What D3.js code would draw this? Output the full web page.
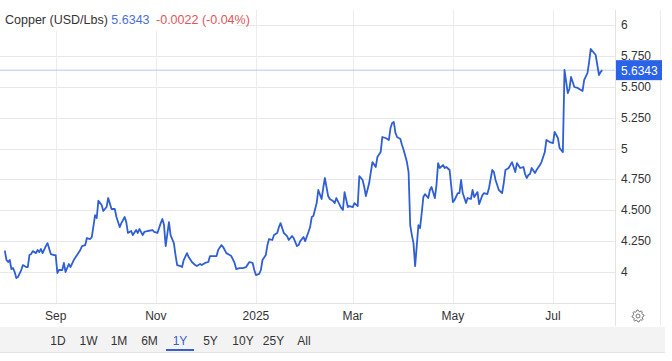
<!DOCTYPE html>
<html>
<head>
<meta charset="utf-8">
<script src="https://cdn.jsdelivr.net/npm/d3@7"></script>
<style>
  body { margin: 0; background: #fff; }
  svg { display: block; font-family: "Liberation Sans", Arial, sans-serif; }
</style>
</head>
<body>
<svg id="chart" width="672" height="361"></svg>
<script>
// copper price, USD/Lbs
const dates = [
  "2024-08-01","2024-08-02","2024-08-03","2024-08-04","2024-08-05","2024-08-06","2024-08-07","2024-08-08","2024-08-09","2024-08-11",
  "2024-08-12","2024-08-14","2024-08-15","2024-08-16","2024-08-17","2024-08-18","2024-08-20","2024-08-21","2024-08-22","2024-08-23",
  "2024-08-24","2024-08-26","2024-08-27","2024-08-29","2024-08-31","2024-09-01","2024-09-02","2024-09-03","2024-09-05","2024-09-06",
  "2024-09-07","2024-09-09","2024-09-10","2024-09-12","2024-09-14","2024-09-16","2024-09-17","2024-09-19","2024-09-20","2024-09-22",
  "2024-09-23","2024-09-25","2024-09-26","2024-09-27","2024-09-29","2024-09-30","2024-10-02","2024-10-03","2024-10-05","2024-10-07",
  "2024-10-08","2024-10-10","2024-10-11","2024-10-13","2024-10-14","2024-10-15","2024-10-17","2024-10-18","2024-10-20","2024-10-21",
  "2024-10-22","2024-10-24","2024-10-25","2024-10-27","2024-10-30","2024-10-31","2024-11-02","2024-11-04","2024-11-05","2024-11-06",
  "2024-11-07","2024-11-09","2024-11-10","2024-11-12","2024-11-13","2024-11-14","2024-11-16","2024-11-17","2024-11-18","2024-11-20",
  "2024-11-21","2024-11-23","2024-11-25","2024-11-26","2024-11-28","2024-11-29","2024-12-01","2024-12-03","2024-12-04","2024-12-06",
  "2024-12-08","2024-12-09","2024-12-11","2024-12-12","2024-12-14","2024-12-16","2024-12-17","2024-12-19","2024-12-20","2024-12-22",
  "2024-12-24","2024-12-26","2024-12-28","2024-12-30","2024-12-31","2025-01-01","2025-01-03","2025-01-04","2025-01-05","2025-01-07",
  "2025-01-08","2025-01-09","2025-01-11","2025-01-12","2025-01-14","2025-01-15","2025-01-16","2025-01-18","2025-01-20","2025-01-21",
  "2025-01-23","2025-01-24","2025-01-26","2025-01-27","2025-01-28","2025-01-30","2025-01-31","2025-02-02","2025-02-03","2025-02-04",
  "2025-02-05","2025-02-07","2025-02-08","2025-02-10","2025-02-11","2025-02-12","2025-02-14","2025-02-15","2025-02-17","2025-02-18",
  "2025-02-19","2025-02-22","2025-02-23","2025-02-24","2025-02-26","2025-02-27","2025-03-01","2025-03-02","2025-03-04","2025-03-05",
  "2025-03-07","2025-03-08","2025-03-09","2025-03-11","2025-03-12","2025-03-13","2025-03-15","2025-03-16","2025-03-18","2025-03-19",
  "2025-03-21","2025-03-23","2025-03-24","2025-03-25","2025-03-26","2025-03-27","2025-03-28","2025-03-30","2025-03-31","2025-04-01",
  "2025-04-03","2025-04-04","2025-04-05","2025-04-06","2025-04-07","2025-04-08","2025-04-10","2025-04-11","2025-04-12","2025-04-13",
  "2025-04-14","2025-04-16","2025-04-17","2025-04-18","2025-04-20","2025-04-21","2025-04-22","2025-04-23","2025-04-25","2025-04-26",
  "2025-04-27","2025-04-29","2025-05-01","2025-05-02","2025-05-04","2025-05-05","2025-05-06","2025-05-07","2025-05-09","2025-05-10",
  "2025-05-12","2025-05-13","2025-05-14","2025-05-16","2025-05-17","2025-05-19","2025-05-20","2025-05-22","2025-05-23","2025-05-25",
  "2025-05-26","2025-05-27","2025-05-29","2025-05-31","2025-06-01","2025-06-02","2025-06-04","2025-06-06","2025-06-08","2025-06-09",
  "2025-06-11","2025-06-13","2025-06-14","2025-06-15","2025-06-16","2025-06-17","2025-06-18","2025-06-20","2025-06-21","2025-06-23",
  "2025-06-24","2025-06-26","2025-06-27","2025-06-29","2025-07-01","2025-07-02","2025-07-04","2025-07-05","2025-07-07","2025-07-08",
  "2025-07-10","2025-07-11","2025-07-12","2025-07-13","2025-07-14","2025-07-16","2025-07-19","2025-07-20","2025-07-22","2025-07-23",
  "2025-07-24","2025-07-26","2025-07-27","2025-07-29","2025-07-30","2025-07-31"
];
const prices = [
  4.173,4.097,4.081,4.097,4.024,4.032,4.000,3.951,3.959,4.016,
  4.056,4.040,4.040,4.137,4.145,4.169,4.153,4.178,4.161,4.186,
  4.153,4.210,4.234,4.145,4.137,4.137,3.992,4.016,4.016,4.073,
  4.000,4.065,4.040,4.097,4.137,4.178,4.210,4.218,4.275,4.267,
  4.283,4.461,4.437,4.577,4.542,4.494,4.526,4.599,4.510,4.510,
  4.445,4.364,4.396,4.445,4.404,4.316,4.332,4.299,4.340,4.316,
  4.348,4.299,4.324,4.332,4.340,4.324,4.316,4.396,4.429,4.380,
  4.210,4.404,4.299,4.234,4.137,4.056,4.048,4.040,4.097,4.153,
  4.121,4.081,4.056,4.048,4.065,4.056,4.073,4.081,4.129,4.129,
  4.129,4.178,4.218,4.202,4.153,4.137,4.129,4.073,4.024,4.032,
  4.032,4.040,4.081,4.073,4.016,3.975,3.984,4.016,4.097,4.137,
  4.218,4.267,4.259,4.299,4.316,4.364,4.396,4.316,4.291,4.259,
  4.291,4.275,4.210,4.218,4.250,4.283,4.250,4.324,4.364,4.445,
  4.453,4.558,4.664,4.591,4.680,4.761,4.615,4.591,4.575,4.558,
  4.599,4.518,4.502,4.647,4.526,4.534,4.526,4.558,4.534,4.777,
  4.745,4.688,4.615,4.720,4.809,4.890,4.850,4.931,4.971,5.093,
  5.085,5.069,5.166,5.206,5.215,5.126,5.093,5.077,5.028,4.988,
  4.890,4.809,4.380,4.299,4.234,4.048,4.380,4.356,4.477,4.607,
  4.631,4.599,4.664,4.688,4.599,4.704,4.882,4.842,4.866,4.842,
  4.850,4.826,4.566,4.583,4.639,4.639,4.745,4.639,4.558,4.599,
  4.591,4.664,4.607,4.647,4.550,4.623,4.639,4.631,4.680,4.826,
  4.809,4.745,4.664,4.639,4.720,4.826,4.842,4.890,4.809,4.882,
  4.842,4.850,4.793,4.761,4.785,4.793,4.842,4.801,4.826,4.866,
  4.890,4.971,5.069,5.052,5.044,5.134,5.085,5.004,4.971,5.636,
  5.449,5.482,5.579,5.538,5.498,5.490,5.465,5.555,5.611,5.700,
  5.806,5.773,5.757,5.595,5.619,5.6343
];
const yTicks = [4, 4.25, 4.5, 4.75, 5, 5.25, 5.5, 5.75, 6];
const ranges = ["1D", "1W", "1M", "6M", "1Y", "5Y", "10Y", "25Y", "All"];
const activeRange = "1Y";
const lastPrice = 5.6343;
const change = "-0.0022 (-0.04%)";

const parse = d3.utcParse("%Y-%m-%d");
const data = dates.map((d, i) => ({ date: parse(d), value: prices[i] }));

const svg = d3.select("#chart");
const plotRight = 615, plotTop = 10, plotBottom = 303;

const x = d3.scaleUtc()
  .domain([parse("2024-09-01"), parse("2025-07-01")])
  .range([55.7, 553]);
const y = d3.scaleLinear()
  .domain([4, 6])
  .range([272, 25]);

// horizontal grid
svg.append("g")
  .selectAll("line")
  .data(yTicks)
  .join("line")
    .attr("x1", 0).attr("x2", plotRight)
    .attr("y1", d => Math.round(y(d)) + 0.5).attr("y2", d => Math.round(y(d)) + 0.5)
    .attr("stroke", "#e8e8e8");

// vertical grid + month labels
const months = d3.utcMonth.every(2).range(parse("2024-08-15"), parse("2025-08-01"));
svg.append("g")
  .selectAll("line")
  .data(months)
  .join("line")
    .attr("x1", d => Math.round(x(d)) + 0.5).attr("x2", d => Math.round(x(d)) + 0.5)
    .attr("y1", plotTop).attr("y2", plotBottom)
    .attr("stroke", "#ececec");

svg.append("line")
  .attr("x1", 0).attr("x2", plotRight)
  .attr("y1", plotBottom + 0.5).attr("y2", plotBottom + 0.5)
  .attr("stroke", "#e3e3e3");
svg.append("line")
  .attr("x1", plotRight + 0.5).attr("x2", plotRight + 0.5)
  .attr("y1", plotTop).attr("y2", 326)
  .attr("stroke", "#e3e3e3");
svg.append("line")
  .attr("x1", 660.5).attr("x2", 660.5)
  .attr("y1", plotTop).attr("y2", 326)
  .attr("stroke", "#ececec");

const fmtMonth = d => d.getUTCMonth() === 0 ? d3.utcFormat("%Y")(d) : d3.utcFormat("%b")(d);
svg.append("g")
  .selectAll("text")
  .data(months)
  .join("text")
    .attr("x", d => x(d))
    .attr("y", 320)
    .attr("text-anchor", "middle")
    .attr("font-size", 12)
    .attr("fill", "#333")
    .text(fmtMonth);

// y labels
svg.append("g")
  .selectAll("text")
  .data(yTicks)
  .join("text")
    .attr("x", 621)
    .attr("y", d => y(d) + 4)
    .attr("font-size", 12)
    .attr("fill", "#333")
    .text(d => d === 4 || d === 5 || d === 6 ? d3.format("d")(d) : d3.format(".3f")(d));

// last price line
svg.append("line")
  .attr("x1", 0).attr("x2", plotRight)
  .attr("y1", y(lastPrice)).attr("y2", y(lastPrice))
  .attr("stroke", "#b7c9f2")
  .attr("stroke-width", 1);

// price series
const line = d3.line()
  .x(d => x(d.date))
  .y(d => y(d.value));
svg.append("path")
  .datum(data)
  .attr("fill", "none")
  .attr("stroke", "#2f5fd3")
  .attr("stroke-width", 1.8)
  .attr("stroke-linejoin", "round")
  .attr("d", line);

// price tag
svg.append("rect")
  .attr("x", 616).attr("y", y(lastPrice) - 10)
  .attr("width", 46).attr("height", 20)
  .attr("fill", "#2a62e8");
svg.append("text")
  .attr("x", 621).attr("y", y(lastPrice) + 4.5)
  .attr("font-size", 12)
  .attr("fill", "#fff")
  .text(d3.format(".4f")(lastPrice));

// header
svg.append("rect")
  .attr("x", 0).attr("y", 0).attr("width", 236).attr("height", 31)
  .attr("fill", "#fff");
const head = svg.append("text")
  .attr("x", 5).attr("y", 24)
  .attr("font-size", 12.5);
head.append("tspan").attr("fill", "#333").text("Copper (USD/Lbs) ");
head.append("tspan").attr("fill", "#4a6fd6").text(d3.format(".4f")(lastPrice) + " ");
head.append("tspan").attr("fill", "#e0555a").attr("dx", 3).text(change);

// gear icon
const gear = svg.append("g").attr("transform", "translate(638,316)");
const teeth = 8, rOut = 6, rIn = 4.6;
const pts = [];
for (let i = 0; i < teeth * 4; i++) {
  const a = (i / (teeth * 4)) * 2 * Math.PI;
  const r = (Math.floor((i + 1) / 2) % 2 === 0) ? rOut : rIn;
  pts.push([r * Math.cos(a), r * Math.sin(a)]);
}
gear.append("path")
  .attr("d", d3.line().curve(d3.curveLinearClosed)(pts))
  .attr("fill", "none").attr("stroke", "#777").attr("stroke-width", 1);
gear.append("circle").attr("r", 2).attr("fill", "none").attr("stroke", "#777");

// range selector bar
svg.append("rect")
  .attr("x", 0).attr("y", 327).attr("width", 665).attr("height", 25)
  .attr("fill", "#f3f3f3");
svg.append("line")
  .attr("x1", 0).attr("x2", 665).attr("y1", 352.5).attr("y2", 352.5)
  .attr("stroke", "#e2e2e2");

const btnX = d3.scalePoint().domain(ranges).range([58, 302]);
svg.append("g")
  .selectAll("text")
  .data(ranges)
  .join("text")
    .attr("x", d => btnX(d) + (d.length > 2 ? 2 : 0))
    .attr("y", 345)
    .attr("text-anchor", "middle")
    .attr("font-size", 12)
    .attr("fill", d => d === activeRange ? "#3a5fc8" : "#333")
    .text(d => d);
svg.append("rect")
  .attr("x", btnX(activeRange) - 14).attr("y", 349)
  .attr("width", 28).attr("height", 2)
  .attr("fill", "#3a5fc8");
</script>
</body>
</html>
